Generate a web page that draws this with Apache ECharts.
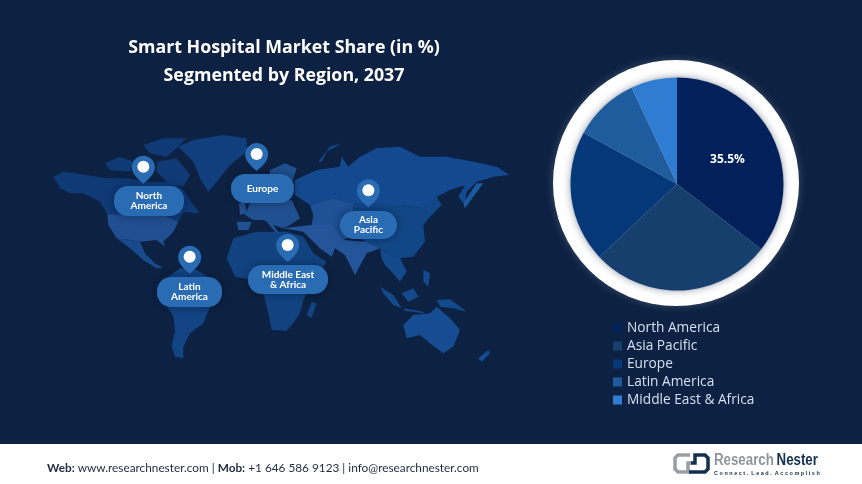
<!DOCTYPE html>
<html>
<head>
<meta charset="utf-8">
<style>
html, body { margin: 0; padding: 0; background: #0d2142; }
#chart_main { width: 862px; height: 484px; }
</style>
<script src="https://cdn.jsdelivr.net/npm/echarts@6/dist/echarts.min.js"></script>
</head>
<body>
<div id="chart_main"></div>
<script>
// 图表数据
var regions = ['North America', 'Asia Pacific', 'Europe', 'Latin America', 'Middle East & Africa'];
var shares = [35.5, 27.5, 20, 10, 7];
var sliceColors = ['#02215a', '#163f6d', '#043878', '#1f5c9e', '#2e7dd3'];
var labelledShare = 35.5;

var chartTitle = 'Smart Hospital Market Share (in %)\nSegmented by Region, 2037';

// 背景世界地图轮廓, 从参考图 3 倍放大后描的
var landShapes = {
    canada: [[[40,170],[70,155],[140,165],[200,175],[260,175],[320,185],[400,185],[430,210],[460,255],[480,280],[430,277],[415,305],[370,285],[202,283],[180,245],[130,220],[90,220],[60,205],[50,185]],
        [[310,75],[370,55],[440,55],[410,85],[380,110],[330,100]],
        [[195,130],[240,110],[280,125],[270,155],[210,150]],
        [[350,125],[410,115],[450,165],[430,200],[380,185],[350,155]]],
    usa: [[[202,283],[370,285],[415,305],[400,335],[370,365],[375,380],[350,360],[300,365],[270,360],[230,355],[205,315]]],
    mexico: [[[230,355],[270,360],[300,365],[315,400],[345,430],[370,445],[350,445],[310,420],[270,385]]],
    greenland: [[[415,80],[460,60],[550,45],[620,55],[620,95],[570,135],[530,185],[505,215],[480,175],[460,125]]],
    southAmerica: [[[385,470],[420,445],[470,450],[520,480],[545,505],[510,560],[490,610],[450,640],[430,680],[430,715],[405,710],[395,680],[405,630],[400,590],[370,540]]],
    africa: [[[560,415],[580,355],[650,335],[740,335],[790,350],[820,400],[860,425],[815,490],[790,540],[780,580],[755,615],[740,632],[695,630],[685,580],[670,520],[640,480],[585,470]],
        [[800,585],[815,545],[830,550],[815,595]]],
    europe: [[[630,250],[670,245],[755,240],[780,295],[750,315],[730,325],[700,315],[670,300],[640,300],[615,285]],
        [[590,305],[635,305],[625,330],[595,330]],
        [[690,150],[735,130],[770,145],[755,190],[710,190],[690,175]],
        [[597,250],[615,245],[620,280],[600,285]],
        [[675,300],[700,315],[720,345],[705,335]]],
    russia: [[[765,180],[830,150],[900,140],[905,110],[925,140],[960,110],[1010,85],[1080,80],[1140,110],[1220,110],[1300,125],[1370,140],[1408,165],[1360,170],[1310,185],[1280,215],[1275,255],[1255,230],[1275,195],[1230,210],[1190,230],[1150,265],[1080,255],[1010,255],[940,250],[880,235],[810,255],[765,225]],
        [[835,125],[870,80],[905,70],[860,95],[845,125]]],
    china: [[[940,250],[1010,255],[1080,255],[1150,265],[1190,230],[1205,255],[1170,290],[1150,315],[1155,365],[1120,410],[1080,415],[1060,410],[1020,385],[980,365],[940,345]]],
    centralAsia: [[[810,255],[880,235],[940,250],[940,345],[910,360],[880,315],[815,315],[820,285]]],
    southWestAsia: [[[730,325],[815,315],[880,315],[910,360],[980,365],[1020,385],[980,400],[945,465],[915,405],[885,385],[875,410],[840,385],[815,360],[790,335]]],
    seAsia: [[[1020,385],[1060,410],[1080,415],[1100,455],[1080,485],[1055,455],[1035,435],[1025,415]],
        [[1020,500],[1060,525],[1085,565],[1060,555],[1030,520]],
        [[1085,520],[1120,505],[1135,530],[1105,545]],
        [[1090,565],[1150,575],[1150,580],[1095,572]],
        [[1150,450],[1170,460],[1165,500],[1150,485]],
        [[1190,540],[1230,538],[1280,575],[1240,565],[1200,560]]],
    japan: [[[1270,250],[1310,190],[1330,190],[1300,230],[1275,265]]],
    australia: [[[1090,615],[1120,585],[1170,580],[1190,560],[1230,595],[1260,630],[1240,680],[1210,700],[1170,670],[1140,645],[1100,655]],
        [[1315,715],[1345,690],[1350,700],[1325,725]]]
};
var landColors = {
    canada: '#0f3a76',
    usa: '#214e90',
    mexico: '#174a8c',
    greenland: '#113e7c',
    southAmerica: '#124382',
    africa: '#114380',
    europe: '#20508f',
    russia: '#134a8f',
    china: '#124787',
    centralAsia: '#1e5196',
    southWestAsia: '#24559a',
    seAsia: '#134a8c',
    japan: '#1b5aa0',
    australia: '#154c92'
};

// 地图标记: 名称, 图钉位置(同样是 3 倍坐标), 标签框
var pinNames = ['North\nAmerica', 'Europe', 'Asia\nPacific', 'Latin\nAmerica', 'Middle East\n& Africa'];
var pinSpots = [[310, 140], [650, 102], [985, 211], [449, 410], [743, 375]];
var pillBoxes = [[114, 186, 70, 30], [231, 174, 63, 29], [340, 211, 57, 28], [157, 277, 65, 30], [248, 265, 80, 29]];

var PILL_COLOR = '#2a6cb3';
var PIN_PATH = 'path://M12 0C5.4 0 0 5.4 0 12c0 6.500 6 12 12 17c6-5 12-10.500 12-17C24 5.4 18.600 0 12 0z';
var FONT = '"Open Sans", "Noto Sans", sans-serif';

var chart = echarts.init(document.getElementById('chart_main'));

var worldJson = {
    type: 'FeatureCollection',
    features: Object.keys(landShapes).map(function (name) {
        return {
            type: 'Feature',
            properties: { name: name },
            geometry: {
                type: 'MultiPolygon',
                coordinates: landShapes[name].map(function (ring) {
                    return [ring.concat([ring[0]])];
                })
            }
        };
    })
};
echarts.registerMap('world_trace', worldJson);

// 白色圆环 + 底部白条 + 标签框 + logo
var graphics = [
    {
        type: 'circle', z: 1, silent: true,
        shape: { cx: 676, cy: 183, r: 123 },
        style: { fill: '#ffffff', shadowBlur: 8, shadowColor: 'rgba(255,255,255,0.2)' }
    },
    {
        type: 'circle', z: 1, silent: true,
        shape: { cx: 677, cy: 184, r: 107.5 },
        style: { fill: '#c4cad3', shadowBlur: 7, shadowColor: 'rgba(150,158,172,0.8)' }
    },
    {
        type: 'rect', z: 1, silent: true,
        shape: { x: 0, y: 444, width: 862, height: 40 },
        style: { fill: '#ffffff' }
    }
];

pillBoxes.forEach(function (b, i) {
    graphics.push({
        type: 'rect', z: 5, silent: true,
        shape: { x: b[0], y: b[1], width: b[2], height: b[3], r: 14 },
        style: { fill: PILL_COLOR, shadowBlur: 8, shadowColor: 'rgba(5,15,40,0.45)' }
    });
    graphics.push({
        type: 'text', z: 7, silent: true,
        x: b[0] + b[2] / 2, y: b[1] + b[3] / 2,
        style: {
            text: pinNames[i], fill: '#ffffff', align: 'center', verticalAlign: 'middle',
            font: 'bold 10px Lato, ' + FONT, lineHeight: 10
        }
    });
});

// logo
graphics.push(
    {
        type: 'polyline', z: 3, silent: true,
        shape: { points: [[690, 455], [678, 455], [675, 458], [675, 469], [678, 472], [688, 472], [688, 463], [692, 463]] },
        style: { stroke: '#9a9ea3', lineWidth: 3.5, fill: null }
    },
    {
        type: 'polyline', z: 3, silent: true,
        shape: { points: [[689, 472], [705, 472], [708, 469], [708, 458], [705, 455], [695, 455], [695, 463], [691, 463]] },
        style: { stroke: '#12304f', lineWidth: 3.5, fill: null }
    },
    {
        type: 'text', z: 3, silent: true, x: 714, y: 461, scaleX: 0.83,
        style: {
            text: '{a|Research} {b|Nester}', verticalAlign: 'middle',
            rich: {
                a: { font: 'bold 16px "Liberation Sans"', fill: '#8f9499' },
                b: { font: 'bold 16px "Liberation Sans"', fill: '#12304f' }
            }
        }
    },
    {
        type: 'text', z: 3, silent: true, x: 714, y: 473,
        style: {
            text: 'C o n n e c t .  L e a d .  A c c o m p l i s h', verticalAlign: 'middle',
            font: 'bold 5.5px "Liberation Sans"', fill: '#12304f'
        }
    }
);

var option = {
    backgroundColor: '#0d2142',
    animation: false,
    title: [
        {
            text: chartTitle,
            left: 279,
            top: 29,
            textAlign: 'center',
            textStyle: { color: '#ffffff', fontSize: 17.8, fontWeight: 'bold', fontFamily: FONT, lineHeight: 28 }
        },
        {
            text: '{b|Web:} www.researchnester.com | {b|Mob:} +1 646 586 9123 | info@researchnester.com',
            left: 42,
            top: 457,
            textStyle: {
                color: '#1d2b40', fontSize: 11.8, fontWeight: 'normal', fontFamily: 'Lato, sans-serif',
                rich: { b: { fontWeight: 'bold', fontSize: 11.8, color: '#1d2b40', fontFamily: 'Lato, sans-serif' } }
            }
        }
    ],
    legend: {
        orient: 'vertical',
        left: 613,
        top: 319,
        itemWidth: 9,
        itemHeight: 9,
        itemGap: 0,
        padding: 0,
        icon: 'rect',
        data: regions,
        selectedMode: false,
        textStyle: { color: '#d3e0f0', fontSize: 13.7, lineHeight: 18, height: 18, fontFamily: FONT, padding: [0, 0, 0, 0] }
    },
    geo: {
        map: 'world_trace',
        silent: true,
        roam: false,
        z: 0,
        projection: {
            project: function (p) { return p; },
            unproject: function (p) { return p; }
        },
        boundingCoords: [[-120, -360], [2466, 1092]],
        left: 0,
        top: 0,
        width: 862,
        height: 484,
        label: { show: false },
        itemStyle: { areaColor: '#123f7e', borderWidth: 0 },
        regions: Object.keys(landColors).map(function (name) {
            return { name: name, itemStyle: { areaColor: landColors[name] } };
        })
    },
    series: [
        {
            type: 'scatter',
            coordinateSystem: 'geo',
            z: 6,
            silent: true,
            symbol: PIN_PATH,
            symbolSize: [23, 28],
            symbolOffset: [0, 3],
            itemStyle: { color: PILL_COLOR, opacity: 1 },
            data: pinSpots
        },
        {
            type: 'scatter',
            coordinateSystem: 'geo',
            z: 7,
            silent: true,
            symbol: 'circle',
            symbolSize: 12,
            itemStyle: { color: '#ffffff', opacity: 1 },
            data: pinSpots
        },
        {
            type: 'pie',
            z: 2,
            center: [677, 184],
            radius: [0, 106.5],
            startAngle: 90,
            clockwise: true,
            silent: true,
            labelLine: { show: false },
            data: regions.map(function (name, i) {
                return {
                    name: name,
                    value: shares[i],
                    itemStyle: { color: sliceColors[i] },
                    label: {
                        show: shares[i] === labelledShare,
                        position: 'inner',
                        formatter: '{c}%',
                        color: '#ffffff',
                        fontSize: 12,
                        fontWeight: 'bold',
                        fontFamily: FONT
                    }
                };
            })
        }
    ],
    graphic: { elements: graphics }
};

chart.setOption(option);
</script>
</body>
</html>
